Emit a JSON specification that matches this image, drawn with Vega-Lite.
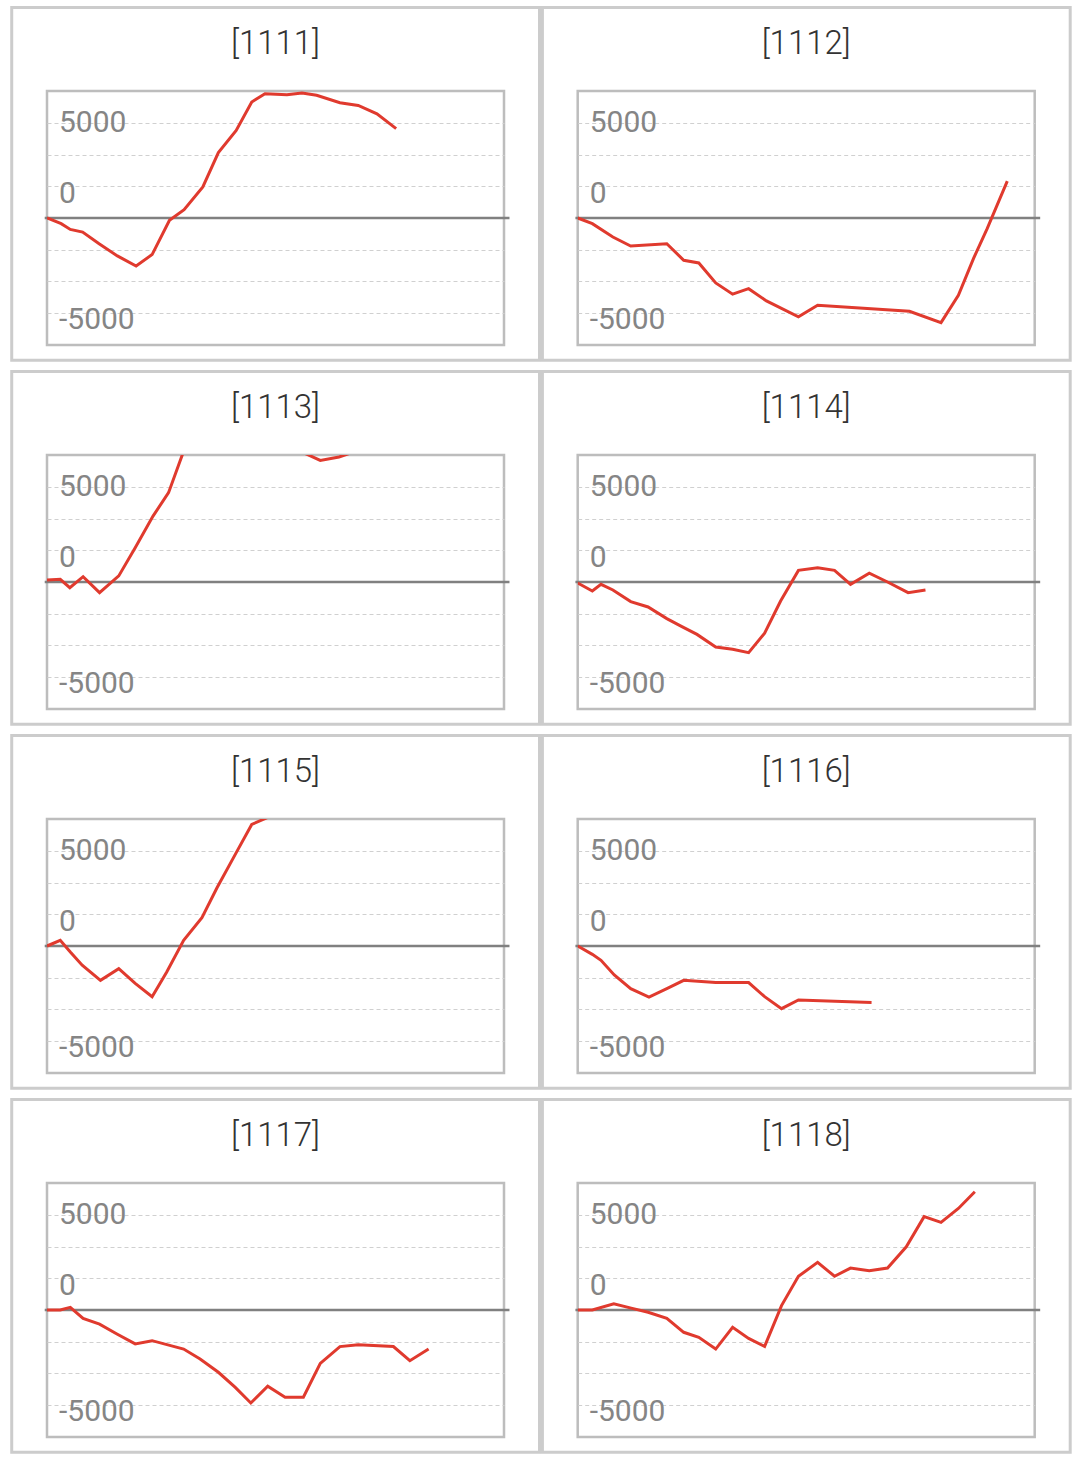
{
  "$schema": "https://vega.github.io/schema/vega-lite/v6.json",
  "background": "white",
  "padding": {"left": 8, "top": 4, "right": 0, "bottom": 0},
  "config": {"view": {"stroke": "#bdbdbd", "strokeWidth": 2.5}},
  "datasets": {
    "panels": [
      {"id": "[1111]", "t": 0, "v": 0}, {"id": "[1111]", "t": 3.1, "v": -300}, {"id": "[1111]", "t": 5.1, "v": -600},
      {"id": "[1111]", "t": 7.8, "v": -740}, {"id": "[1111]", "t": 11.4, "v": -1350}, {"id": "[1111]", "t": 15.4, "v": -1990},
      {"id": "[1111]", "t": 19.5, "v": -2520}, {"id": "[1111]", "t": 23.0, "v": -1920}, {"id": "[1111]", "t": 26.8, "v": -120},
      {"id": "[1111]", "t": 30.0, "v": 440}, {"id": "[1111]", "t": 34.1, "v": 1630}, {"id": "[1111]", "t": 37.5, "v": 3430},
      {"id": "[1111]", "t": 41.4, "v": 4600}, {"id": "[1111]", "t": 44.8, "v": 6090}, {"id": "[1111]", "t": 47.7, "v": 6520},
      {"id": "[1111]", "t": 52.5, "v": 6470}, {"id": "[1111]", "t": 55.8, "v": 6560}, {"id": "[1111]", "t": 59.0, "v": 6440},
      {"id": "[1111]", "t": 64.1, "v": 6050}, {"id": "[1111]", "t": 68.1, "v": 5910}, {"id": "[1111]", "t": 72.2, "v": 5470},
      {"id": "[1111]", "t": 76.4, "v": 4690},

      {"id": "[1112]", "t": 0, "v": 0}, {"id": "[1112]", "t": 3.2, "v": -300}, {"id": "[1112]", "t": 7.7, "v": -1000},
      {"id": "[1112]", "t": 11.6, "v": -1470}, {"id": "[1112]", "t": 19.5, "v": -1350}, {"id": "[1112]", "t": 23.2, "v": -2220},
      {"id": "[1112]", "t": 26.5, "v": -2360}, {"id": "[1112]", "t": 30.2, "v": -3410}, {"id": "[1112]", "t": 33.9, "v": -4000},
      {"id": "[1112]", "t": 37.4, "v": -3710}, {"id": "[1112]", "t": 41.3, "v": -4350}, {"id": "[1112]", "t": 48.3, "v": -5190},
      {"id": "[1112]", "t": 52.5, "v": -4580}, {"id": "[1112]", "t": 72.6, "v": -4900}, {"id": "[1112]", "t": 79.5, "v": -5490},
      {"id": "[1112]", "t": 83.3, "v": -4060}, {"id": "[1112]", "t": 86.6, "v": -2130}, {"id": "[1112]", "t": 89.6, "v": -560},
      {"id": "[1112]", "t": 94.0, "v": 1940},

      {"id": "[1113]", "t": 0, "v": 100}, {"id": "[1113]", "t": 2.9, "v": 140}, {"id": "[1113]", "t": 5.0, "v": -300},
      {"id": "[1113]", "t": 7.9, "v": 280}, {"id": "[1113]", "t": 11.5, "v": -560}, {"id": "[1113]", "t": 15.7, "v": 320},
      {"id": "[1113]", "t": 19.3, "v": 1800}, {"id": "[1113]", "t": 23.2, "v": 3460}, {"id": "[1113]", "t": 26.6, "v": 4690},
      {"id": "[1113]", "t": 30.1, "v": 7000}, {"id": "[1113]", "t": 33.9, "v": 8300}, {"id": "[1113]", "t": 37.4, "v": 9200},
      {"id": "[1113]", "t": 41.1, "v": 9600}, {"id": "[1113]", "t": 44.7, "v": 9100}, {"id": "[1113]", "t": 48.3, "v": 8000},
      {"id": "[1113]", "t": 52.4, "v": 7300}, {"id": "[1113]", "t": 56.1, "v": 6790}, {"id": "[1113]", "t": 59.8, "v": 6380},
      {"id": "[1113]", "t": 63.9, "v": 6560}, {"id": "[1113]", "t": 68.0, "v": 6900}, {"id": "[1113]", "t": 72.3, "v": 7600},
      {"id": "[1113]", "t": 76.0, "v": 8100},

      {"id": "[1114]", "t": 0, "v": -50}, {"id": "[1114]", "t": 3.2, "v": -470}, {"id": "[1114]", "t": 5.1, "v": -120},
      {"id": "[1114]", "t": 7.7, "v": -420}, {"id": "[1114]", "t": 11.6, "v": -1030}, {"id": "[1114]", "t": 15.4, "v": -1310},
      {"id": "[1114]", "t": 19.5, "v": -1920}, {"id": "[1114]", "t": 22.8, "v": -2340}, {"id": "[1114]", "t": 26.1, "v": -2750},
      {"id": "[1114]", "t": 30.2, "v": -3410}, {"id": "[1114]", "t": 33.9, "v": -3530}, {"id": "[1114]", "t": 37.4, "v": -3710},
      {"id": "[1114]", "t": 40.9, "v": -2690}, {"id": "[1114]", "t": 44.4, "v": -1000}, {"id": "[1114]", "t": 48.3, "v": 610},
      {"id": "[1114]", "t": 52.5, "v": 750}, {"id": "[1114]", "t": 56.2, "v": 610}, {"id": "[1114]", "t": 59.7, "v": -120},
      {"id": "[1114]", "t": 63.8, "v": 460}, {"id": "[1114]", "t": 67.8, "v": 0}, {"id": "[1114]", "t": 72.3, "v": -560},
      {"id": "[1114]", "t": 76.1, "v": -420},

      {"id": "[1115]", "t": 0, "v": 0}, {"id": "[1115]", "t": 2.9, "v": 300}, {"id": "[1115]", "t": 5.1, "v": -320},
      {"id": "[1115]", "t": 7.7, "v": -1010}, {"id": "[1115]", "t": 11.7, "v": -1800}, {"id": "[1115]", "t": 15.7, "v": -1190},
      {"id": "[1115]", "t": 19.3, "v": -1960}, {"id": "[1115]", "t": 23.0, "v": -2660}, {"id": "[1115]", "t": 26.2, "v": -1360},
      {"id": "[1115]", "t": 29.9, "v": 300}, {"id": "[1115]", "t": 33.9, "v": 1490}, {"id": "[1115]", "t": 37.2, "v": 3060},
      {"id": "[1115]", "t": 41.2, "v": 4810}, {"id": "[1115]", "t": 44.8, "v": 6380}, {"id": "[1115]", "t": 48.3, "v": 6750},
      {"id": "[1115]", "t": 52.4, "v": 7600}, {"id": "[1115]", "t": 56.1, "v": 8400}, {"id": "[1115]", "t": 59.8, "v": 9300},

      {"id": "[1116]", "t": 0, "v": 0}, {"id": "[1116]", "t": 3.2, "v": -440}, {"id": "[1116]", "t": 5.1, "v": -750},
      {"id": "[1116]", "t": 8.0, "v": -1520}, {"id": "[1116]", "t": 11.6, "v": -2240}, {"id": "[1116]", "t": 15.6, "v": -2680},
      {"id": "[1116]", "t": 19.5, "v": -2240}, {"id": "[1116]", "t": 23.2, "v": -1800}, {"id": "[1116]", "t": 30.2, "v": -1920},
      {"id": "[1116]", "t": 37.4, "v": -1920}, {"id": "[1116]", "t": 40.9, "v": -2660}, {"id": "[1116]", "t": 44.6, "v": -3290},
      {"id": "[1116]", "t": 48.3, "v": -2830}, {"id": "[1116]", "t": 64.3, "v": -2970},

      {"id": "[1117]", "t": 0, "v": 0}, {"id": "[1117]", "t": 2.9, "v": 0}, {"id": "[1117]", "t": 5.1, "v": 140},
      {"id": "[1117]", "t": 7.9, "v": -440}, {"id": "[1117]", "t": 11.5, "v": -740}, {"id": "[1117]", "t": 15.3, "v": -1260},
      {"id": "[1117]", "t": 19.3, "v": -1780}, {"id": "[1117]", "t": 23.0, "v": -1610}, {"id": "[1117]", "t": 29.9, "v": -2050},
      {"id": "[1117]", "t": 33.5, "v": -2570}, {"id": "[1117]", "t": 37.5, "v": -3270}, {"id": "[1117]", "t": 41.2, "v": -4060},
      {"id": "[1117]", "t": 44.6, "v": -4880}, {"id": "[1117]", "t": 48.3, "v": -4000}, {"id": "[1117]", "t": 52.1, "v": -4580},
      {"id": "[1117]", "t": 56.1, "v": -4580}, {"id": "[1117]", "t": 59.8, "v": -2800}, {"id": "[1117]", "t": 64.1, "v": -1920},
      {"id": "[1117]", "t": 68.1, "v": -1820}, {"id": "[1117]", "t": 75.8, "v": -1920}, {"id": "[1117]", "t": 79.4, "v": -2660},
      {"id": "[1117]", "t": 83.5, "v": -2050},

      {"id": "[1118]", "t": 0, "v": 0}, {"id": "[1118]", "t": 3.2, "v": 0}, {"id": "[1118]", "t": 7.9, "v": 320},
      {"id": "[1118]", "t": 11.7, "v": 100}, {"id": "[1118]", "t": 15.4, "v": -120}, {"id": "[1118]", "t": 19.5, "v": -440},
      {"id": "[1118]", "t": 23.2, "v": -1170}, {"id": "[1118]", "t": 26.5, "v": -1430}, {"id": "[1118]", "t": 30.2, "v": -2050},
      {"id": "[1118]", "t": 33.9, "v": -910}, {"id": "[1118]", "t": 37.4, "v": -1490}, {"id": "[1118]", "t": 40.9, "v": -1910},
      {"id": "[1118]", "t": 44.6, "v": 230}, {"id": "[1118]", "t": 48.3, "v": 1770}, {"id": "[1118]", "t": 52.5, "v": 2500},
      {"id": "[1118]", "t": 56.2, "v": 1770}, {"id": "[1118]", "t": 59.7, "v": 2200}, {"id": "[1118]", "t": 63.8, "v": 2060},
      {"id": "[1118]", "t": 67.8, "v": 2200}, {"id": "[1118]", "t": 71.9, "v": 3320}, {"id": "[1118]", "t": 75.8, "v": 4900},
      {"id": "[1118]", "t": 79.5, "v": 4600}, {"id": "[1118]", "t": 83.3, "v": 5330}, {"id": "[1118]", "t": 86.9, "v": 6210}
    ]
  },
  "data": {"name": "panels"},
  "columns": 2,
  "spacing": {"row": 110, "column": 73.7},
  "bounds": "flush",
  "concat": [
    {
      "width": 457, "height": 254,
      "transform": [{"filter": "datum.id === '[1111]'"}],
      "layer": [
        {"transform": [{"filter": "datum.t === 0"}], "mark": {"type": "rect", "filled": false, "stroke": "#cccccc", "strokeWidth": 3},
         "encoding": {"x": {"datum": -7.72, "type": "quantitative", "scale": {"domain": [0, 100], "nice": false, "zero": false}, "axis": null}, "x2": {"datum": 107.77}, "y": {"datum": 11049, "type": "quantitative"}, "y2": {"datum": -7469}}},
        {"transform": [{"filter": "datum.t === 0"}], "mark": {"type": "rule", "color": "#808080", "strokeWidth": 2.5},
         "encoding": {"x": {"datum": -0.5, "type": "quantitative"}, "x2": {"datum": 101.2}, "y": {"datum": 0, "type": "quantitative"}}},
        {"mark": {"type": "line", "color": "#e03a2e", "strokeWidth": 3, "clip": true},
         "encoding": {"x": {"field": "t", "type": "quantitative"},
          "y": {"field": "v", "type": "quantitative", "scale": {"domain": [-6666.67, 6666.67], "nice": false, "zero": false},
           "axis": {"title": null, "values": [-5000, -3333.33, -1666.67, 0, 1666.67, 3333.33, 5000],
            "labelExpr": "datum.value === 5000 ? '5000' : datum.value === 0 ? '0' : datum.value === -5000 ? '-5000' : ''",
            "grid": true, "gridColor": "#d0d0d0", "gridDash": [4, 3], "gridWidth": 1, "domain": false, "ticks": false, "tickSize": 0,
            "labelAlign": "left", "labelBaseline": "middle", "labelPadding": -11.5, "labelFont": "Roboto", "labelFontWeight": 400,
            "labelFontSize": 30, "labelColor": "#858585", "labelOverlap": false, "labelFlush": false, "labelBound": false,
            "labelOffset": {"condition": [{"test": "datum.value === 0", "value": -25}, {"test": "datum.value === -5000", "value": 6}], "value": 0}}}}},
        {"transform": [{"filter": "datum.t === 0"}], "mark": {"type": "text", "font": "Roboto", "fontWeight": 300, "fontSize": 33, "color": "#333333", "baseline": "middle", "align": "center"},
         "encoding": {"x": {"datum": 50, "type": "quantitative"}, "y": {"datum": 9150, "type": "quantitative"}, "text": {"field": "id", "type": "nominal"}}}
      ]
    },
    {
      "width": 457, "height": 254,
      "transform": [{"filter": "datum.id === '[1112]'"}],
      "layer": [
        {"transform": [{"filter": "datum.t === 0"}], "mark": {"type": "rect", "filled": false, "stroke": "#cccccc", "strokeWidth": 3},
         "encoding": {"x": {"datum": -7.72, "type": "quantitative", "scale": {"domain": [0, 100], "nice": false, "zero": false}, "axis": null}, "x2": {"datum": 107.77}, "y": {"datum": 11049, "type": "quantitative"}, "y2": {"datum": -7469}}},
        {"transform": [{"filter": "datum.t === 0"}], "mark": {"type": "rule", "color": "#808080", "strokeWidth": 2.5},
         "encoding": {"x": {"datum": -0.5, "type": "quantitative"}, "x2": {"datum": 101.2}, "y": {"datum": 0, "type": "quantitative"}}},
        {"mark": {"type": "line", "color": "#e03a2e", "strokeWidth": 3, "clip": true},
         "encoding": {"x": {"field": "t", "type": "quantitative"},
          "y": {"field": "v", "type": "quantitative", "scale": {"domain": [-6666.67, 6666.67], "nice": false, "zero": false},
           "axis": {"title": null, "values": [-5000, -3333.33, -1666.67, 0, 1666.67, 3333.33, 5000],
            "labelExpr": "datum.value === 5000 ? '5000' : datum.value === 0 ? '0' : datum.value === -5000 ? '-5000' : ''",
            "grid": true, "gridColor": "#d0d0d0", "gridDash": [4, 3], "gridWidth": 1, "domain": false, "ticks": false, "tickSize": 0,
            "labelAlign": "left", "labelBaseline": "middle", "labelPadding": -11.5, "labelFont": "Roboto", "labelFontWeight": 400,
            "labelFontSize": 30, "labelColor": "#858585", "labelOverlap": false, "labelFlush": false, "labelBound": false,
            "labelOffset": {"condition": [{"test": "datum.value === 0", "value": -25}, {"test": "datum.value === -5000", "value": 6}], "value": 0}}}}},
        {"transform": [{"filter": "datum.t === 0"}], "mark": {"type": "text", "font": "Roboto", "fontWeight": 300, "fontSize": 33, "color": "#333333", "baseline": "middle", "align": "center"},
         "encoding": {"x": {"datum": 50, "type": "quantitative"}, "y": {"datum": 9150, "type": "quantitative"}, "text": {"field": "id", "type": "nominal"}}}
      ]
    },
    {
      "width": 457, "height": 254,
      "transform": [{"filter": "datum.id === '[1113]'"}],
      "layer": [
        {"transform": [{"filter": "datum.t === 0"}], "mark": {"type": "rect", "filled": false, "stroke": "#cccccc", "strokeWidth": 3},
         "encoding": {"x": {"datum": -7.72, "type": "quantitative", "scale": {"domain": [0, 100], "nice": false, "zero": false}, "axis": null}, "x2": {"datum": 107.77}, "y": {"datum": 11049, "type": "quantitative"}, "y2": {"datum": -7469}}},
        {"transform": [{"filter": "datum.t === 0"}], "mark": {"type": "rule", "color": "#808080", "strokeWidth": 2.5},
         "encoding": {"x": {"datum": -0.5, "type": "quantitative"}, "x2": {"datum": 101.2}, "y": {"datum": 0, "type": "quantitative"}}},
        {"mark": {"type": "line", "color": "#e03a2e", "strokeWidth": 3, "clip": true},
         "encoding": {"x": {"field": "t", "type": "quantitative"},
          "y": {"field": "v", "type": "quantitative", "scale": {"domain": [-6666.67, 6666.67], "nice": false, "zero": false},
           "axis": {"title": null, "values": [-5000, -3333.33, -1666.67, 0, 1666.67, 3333.33, 5000],
            "labelExpr": "datum.value === 5000 ? '5000' : datum.value === 0 ? '0' : datum.value === -5000 ? '-5000' : ''",
            "grid": true, "gridColor": "#d0d0d0", "gridDash": [4, 3], "gridWidth": 1, "domain": false, "ticks": false, "tickSize": 0,
            "labelAlign": "left", "labelBaseline": "middle", "labelPadding": -11.5, "labelFont": "Roboto", "labelFontWeight": 400,
            "labelFontSize": 30, "labelColor": "#858585", "labelOverlap": false, "labelFlush": false, "labelBound": false,
            "labelOffset": {"condition": [{"test": "datum.value === 0", "value": -25}, {"test": "datum.value === -5000", "value": 6}], "value": 0}}}}},
        {"transform": [{"filter": "datum.t === 0"}], "mark": {"type": "text", "font": "Roboto", "fontWeight": 300, "fontSize": 33, "color": "#333333", "baseline": "middle", "align": "center"},
         "encoding": {"x": {"datum": 50, "type": "quantitative"}, "y": {"datum": 9150, "type": "quantitative"}, "text": {"field": "id", "type": "nominal"}}}
      ]
    },
    {
      "width": 457, "height": 254,
      "transform": [{"filter": "datum.id === '[1114]'"}],
      "layer": [
        {"transform": [{"filter": "datum.t === 0"}], "mark": {"type": "rect", "filled": false, "stroke": "#cccccc", "strokeWidth": 3},
         "encoding": {"x": {"datum": -7.72, "type": "quantitative", "scale": {"domain": [0, 100], "nice": false, "zero": false}, "axis": null}, "x2": {"datum": 107.77}, "y": {"datum": 11049, "type": "quantitative"}, "y2": {"datum": -7469}}},
        {"transform": [{"filter": "datum.t === 0"}], "mark": {"type": "rule", "color": "#808080", "strokeWidth": 2.5},
         "encoding": {"x": {"datum": -0.5, "type": "quantitative"}, "x2": {"datum": 101.2}, "y": {"datum": 0, "type": "quantitative"}}},
        {"mark": {"type": "line", "color": "#e03a2e", "strokeWidth": 3, "clip": true},
         "encoding": {"x": {"field": "t", "type": "quantitative"},
          "y": {"field": "v", "type": "quantitative", "scale": {"domain": [-6666.67, 6666.67], "nice": false, "zero": false},
           "axis": {"title": null, "values": [-5000, -3333.33, -1666.67, 0, 1666.67, 3333.33, 5000],
            "labelExpr": "datum.value === 5000 ? '5000' : datum.value === 0 ? '0' : datum.value === -5000 ? '-5000' : ''",
            "grid": true, "gridColor": "#d0d0d0", "gridDash": [4, 3], "gridWidth": 1, "domain": false, "ticks": false, "tickSize": 0,
            "labelAlign": "left", "labelBaseline": "middle", "labelPadding": -11.5, "labelFont": "Roboto", "labelFontWeight": 400,
            "labelFontSize": 30, "labelColor": "#858585", "labelOverlap": false, "labelFlush": false, "labelBound": false,
            "labelOffset": {"condition": [{"test": "datum.value === 0", "value": -25}, {"test": "datum.value === -5000", "value": 6}], "value": 0}}}}},
        {"transform": [{"filter": "datum.t === 0"}], "mark": {"type": "text", "font": "Roboto", "fontWeight": 300, "fontSize": 33, "color": "#333333", "baseline": "middle", "align": "center"},
         "encoding": {"x": {"datum": 50, "type": "quantitative"}, "y": {"datum": 9150, "type": "quantitative"}, "text": {"field": "id", "type": "nominal"}}}
      ]
    },
    {
      "width": 457, "height": 254,
      "transform": [{"filter": "datum.id === '[1115]'"}],
      "layer": [
        {"transform": [{"filter": "datum.t === 0"}], "mark": {"type": "rect", "filled": false, "stroke": "#cccccc", "strokeWidth": 3},
         "encoding": {"x": {"datum": -7.72, "type": "quantitative", "scale": {"domain": [0, 100], "nice": false, "zero": false}, "axis": null}, "x2": {"datum": 107.77}, "y": {"datum": 11049, "type": "quantitative"}, "y2": {"datum": -7469}}},
        {"transform": [{"filter": "datum.t === 0"}], "mark": {"type": "rule", "color": "#808080", "strokeWidth": 2.5},
         "encoding": {"x": {"datum": -0.5, "type": "quantitative"}, "x2": {"datum": 101.2}, "y": {"datum": 0, "type": "quantitative"}}},
        {"mark": {"type": "line", "color": "#e03a2e", "strokeWidth": 3, "clip": true},
         "encoding": {"x": {"field": "t", "type": "quantitative"},
          "y": {"field": "v", "type": "quantitative", "scale": {"domain": [-6666.67, 6666.67], "nice": false, "zero": false},
           "axis": {"title": null, "values": [-5000, -3333.33, -1666.67, 0, 1666.67, 3333.33, 5000],
            "labelExpr": "datum.value === 5000 ? '5000' : datum.value === 0 ? '0' : datum.value === -5000 ? '-5000' : ''",
            "grid": true, "gridColor": "#d0d0d0", "gridDash": [4, 3], "gridWidth": 1, "domain": false, "ticks": false, "tickSize": 0,
            "labelAlign": "left", "labelBaseline": "middle", "labelPadding": -11.5, "labelFont": "Roboto", "labelFontWeight": 400,
            "labelFontSize": 30, "labelColor": "#858585", "labelOverlap": false, "labelFlush": false, "labelBound": false,
            "labelOffset": {"condition": [{"test": "datum.value === 0", "value": -25}, {"test": "datum.value === -5000", "value": 6}], "value": 0}}}}},
        {"transform": [{"filter": "datum.t === 0"}], "mark": {"type": "text", "font": "Roboto", "fontWeight": 300, "fontSize": 33, "color": "#333333", "baseline": "middle", "align": "center"},
         "encoding": {"x": {"datum": 50, "type": "quantitative"}, "y": {"datum": 9150, "type": "quantitative"}, "text": {"field": "id", "type": "nominal"}}}
      ]
    },
    {
      "width": 457, "height": 254,
      "transform": [{"filter": "datum.id === '[1116]'"}],
      "layer": [
        {"transform": [{"filter": "datum.t === 0"}], "mark": {"type": "rect", "filled": false, "stroke": "#cccccc", "strokeWidth": 3},
         "encoding": {"x": {"datum": -7.72, "type": "quantitative", "scale": {"domain": [0, 100], "nice": false, "zero": false}, "axis": null}, "x2": {"datum": 107.77}, "y": {"datum": 11049, "type": "quantitative"}, "y2": {"datum": -7469}}},
        {"transform": [{"filter": "datum.t === 0"}], "mark": {"type": "rule", "color": "#808080", "strokeWidth": 2.5},
         "encoding": {"x": {"datum": -0.5, "type": "quantitative"}, "x2": {"datum": 101.2}, "y": {"datum": 0, "type": "quantitative"}}},
        {"mark": {"type": "line", "color": "#e03a2e", "strokeWidth": 3, "clip": true},
         "encoding": {"x": {"field": "t", "type": "quantitative"},
          "y": {"field": "v", "type": "quantitative", "scale": {"domain": [-6666.67, 6666.67], "nice": false, "zero": false},
           "axis": {"title": null, "values": [-5000, -3333.33, -1666.67, 0, 1666.67, 3333.33, 5000],
            "labelExpr": "datum.value === 5000 ? '5000' : datum.value === 0 ? '0' : datum.value === -5000 ? '-5000' : ''",
            "grid": true, "gridColor": "#d0d0d0", "gridDash": [4, 3], "gridWidth": 1, "domain": false, "ticks": false, "tickSize": 0,
            "labelAlign": "left", "labelBaseline": "middle", "labelPadding": -11.5, "labelFont": "Roboto", "labelFontWeight": 400,
            "labelFontSize": 30, "labelColor": "#858585", "labelOverlap": false, "labelFlush": false, "labelBound": false,
            "labelOffset": {"condition": [{"test": "datum.value === 0", "value": -25}, {"test": "datum.value === -5000", "value": 6}], "value": 0}}}}},
        {"transform": [{"filter": "datum.t === 0"}], "mark": {"type": "text", "font": "Roboto", "fontWeight": 300, "fontSize": 33, "color": "#333333", "baseline": "middle", "align": "center"},
         "encoding": {"x": {"datum": 50, "type": "quantitative"}, "y": {"datum": 9150, "type": "quantitative"}, "text": {"field": "id", "type": "nominal"}}}
      ]
    },
    {
      "width": 457, "height": 254,
      "transform": [{"filter": "datum.id === '[1117]'"}],
      "layer": [
        {"transform": [{"filter": "datum.t === 0"}], "mark": {"type": "rect", "filled": false, "stroke": "#cccccc", "strokeWidth": 3},
         "encoding": {"x": {"datum": -7.72, "type": "quantitative", "scale": {"domain": [0, 100], "nice": false, "zero": false}, "axis": null}, "x2": {"datum": 107.77}, "y": {"datum": 11049, "type": "quantitative"}, "y2": {"datum": -7469}}},
        {"transform": [{"filter": "datum.t === 0"}], "mark": {"type": "rule", "color": "#808080", "strokeWidth": 2.5},
         "encoding": {"x": {"datum": -0.5, "type": "quantitative"}, "x2": {"datum": 101.2}, "y": {"datum": 0, "type": "quantitative"}}},
        {"mark": {"type": "line", "color": "#e03a2e", "strokeWidth": 3, "clip": true},
         "encoding": {"x": {"field": "t", "type": "quantitative"},
          "y": {"field": "v", "type": "quantitative", "scale": {"domain": [-6666.67, 6666.67], "nice": false, "zero": false},
           "axis": {"title": null, "values": [-5000, -3333.33, -1666.67, 0, 1666.67, 3333.33, 5000],
            "labelExpr": "datum.value === 5000 ? '5000' : datum.value === 0 ? '0' : datum.value === -5000 ? '-5000' : ''",
            "grid": true, "gridColor": "#d0d0d0", "gridDash": [4, 3], "gridWidth": 1, "domain": false, "ticks": false, "tickSize": 0,
            "labelAlign": "left", "labelBaseline": "middle", "labelPadding": -11.5, "labelFont": "Roboto", "labelFontWeight": 400,
            "labelFontSize": 30, "labelColor": "#858585", "labelOverlap": false, "labelFlush": false, "labelBound": false,
            "labelOffset": {"condition": [{"test": "datum.value === 0", "value": -25}, {"test": "datum.value === -5000", "value": 6}], "value": 0}}}}},
        {"transform": [{"filter": "datum.t === 0"}], "mark": {"type": "text", "font": "Roboto", "fontWeight": 300, "fontSize": 33, "color": "#333333", "baseline": "middle", "align": "center"},
         "encoding": {"x": {"datum": 50, "type": "quantitative"}, "y": {"datum": 9150, "type": "quantitative"}, "text": {"field": "id", "type": "nominal"}}}
      ]
    },
    {
      "width": 457, "height": 254,
      "transform": [{"filter": "datum.id === '[1118]'"}],
      "layer": [
        {"transform": [{"filter": "datum.t === 0"}], "mark": {"type": "rect", "filled": false, "stroke": "#cccccc", "strokeWidth": 3},
         "encoding": {"x": {"datum": -7.72, "type": "quantitative", "scale": {"domain": [0, 100], "nice": false, "zero": false}, "axis": null}, "x2": {"datum": 107.77}, "y": {"datum": 11049, "type": "quantitative"}, "y2": {"datum": -7469}}},
        {"transform": [{"filter": "datum.t === 0"}], "mark": {"type": "rule", "color": "#808080", "strokeWidth": 2.5},
         "encoding": {"x": {"datum": -0.5, "type": "quantitative"}, "x2": {"datum": 101.2}, "y": {"datum": 0, "type": "quantitative"}}},
        {"mark": {"type": "line", "color": "#e03a2e", "strokeWidth": 3, "clip": true},
         "encoding": {"x": {"field": "t", "type": "quantitative"},
          "y": {"field": "v", "type": "quantitative", "scale": {"domain": [-6666.67, 6666.67], "nice": false, "zero": false},
           "axis": {"title": null, "values": [-5000, -3333.33, -1666.67, 0, 1666.67, 3333.33, 5000],
            "labelExpr": "datum.value === 5000 ? '5000' : datum.value === 0 ? '0' : datum.value === -5000 ? '-5000' : ''",
            "grid": true, "gridColor": "#d0d0d0", "gridDash": [4, 3], "gridWidth": 1, "domain": false, "ticks": false, "tickSize": 0,
            "labelAlign": "left", "labelBaseline": "middle", "labelPadding": -11.5, "labelFont": "Roboto", "labelFontWeight": 400,
            "labelFontSize": 30, "labelColor": "#858585", "labelOverlap": false, "labelFlush": false, "labelBound": false,
            "labelOffset": {"condition": [{"test": "datum.value === 0", "value": -25}, {"test": "datum.value === -5000", "value": 6}], "value": 0}}}}},
        {"transform": [{"filter": "datum.t === 0"}], "mark": {"type": "text", "font": "Roboto", "fontWeight": 300, "fontSize": 33, "color": "#333333", "baseline": "middle", "align": "center"},
         "encoding": {"x": {"datum": 50, "type": "quantitative"}, "y": {"datum": 9150, "type": "quantitative"}, "text": {"field": "id", "type": "nominal"}}}
      ]
    }
  ]
}
